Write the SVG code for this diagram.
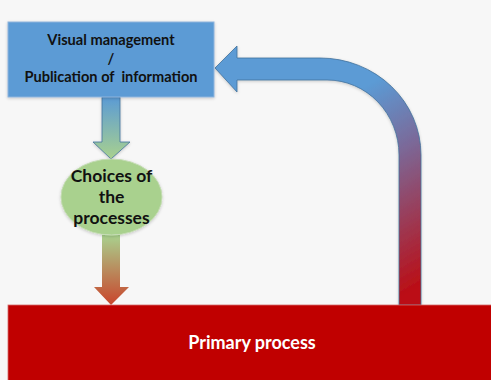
<svg xmlns="http://www.w3.org/2000/svg" width="491" height="380" viewBox="0 0 491 380">
<defs>
<style>
.lbl{font-family:Lato,"Liberation Sans",sans-serif;font-weight:bold;text-anchor:middle;fill:#111}
</style>
<linearGradient id="gDown1" x1="0" y1="0" x2="0" y2="1">
<stop offset="0" stop-color="#5b9bd5"/><stop offset="1" stop-color="#a9d18e"/>
</linearGradient>
<linearGradient id="gDown2" x1="0" y1="0" x2="0" y2="1">
<stop offset="0" stop-color="#a9d18e"/><stop offset="1" stop-color="#c9452c"/>
</linearGradient>
<linearGradient id="gCurve" gradientUnits="userSpaceOnUse" x1="350" y1="95" x2="450" y2="270">
<stop offset="0" stop-color="#5b9bd5"/><stop offset="0.35" stop-color="#7a6a9a"/><stop offset="1" stop-color="#bb0d14"/>
</linearGradient>
<filter id="sh" x="-10%" y="-10%" width="120%" height="130%">
<feDropShadow dx="0" dy="1" stdDeviation="1.5" flood-color="#000" flood-opacity="0.2"/>
</filter>
</defs>
<rect width="491" height="380" fill="#f7f7f7"/>
<g id="connectors">
<path d="M102,97 L120,97 L120,142 L130,142 L111,159 L93,142 L102,142 Z" fill="url(#gDown1)" stroke="#41719c" stroke-width="0.8" filter="url(#sh)"/>
<path d="M102,235 L120,235 L120,287 L129,287 L111,305 L94,287 L102,287 Z" fill="url(#gDown2)" stroke="none"/>
<path d="M215,68 L237,46 L237,58 L320,58 A101,97 0 0 1 421,155 L421,305 L399,305 L399,155 A72,75 0 0 0 327,80 L237,80 L237,92 Z" fill="url(#gCurve)" stroke="#41719c" stroke-width="0.8" filter="url(#sh)"/>
</g>
<g id="visual">
<rect x="8" y="22" width="206" height="75" fill="#5b9bd5" stroke="#8fb4dc" stroke-width="1" filter="url(#sh)"/>
<text class="lbl" x="111" y="45" font-size="14.6">Visual management</text>
<text class="lbl" x="111" y="64" font-size="14.6">/</text>
<text class="lbl" x="111" y="82" font-size="14.6" xml:space="preserve">Publication of  information</text>
</g>
<g id="choices">
<ellipse cx="111.5" cy="197" rx="50.5" ry="38" fill="#a9d18e" stroke="#c4dcb3" stroke-width="1" filter="url(#sh)"/>
<text class="lbl" x="111.5" y="182" font-size="17.5">Choices of</text>
<text class="lbl" x="111.5" y="203" font-size="17.5">the</text>
<text class="lbl" x="111.5" y="224" font-size="17.5">processes</text>
</g>
<g id="primary">
<rect x="8" y="305" width="490" height="80" fill="#c00000" stroke="#d46a6a" stroke-width="0.8"/>
<text class="lbl" x="252" y="349" font-size="18" style="fill:#fff">Primary process</text>
</g>
</svg>
